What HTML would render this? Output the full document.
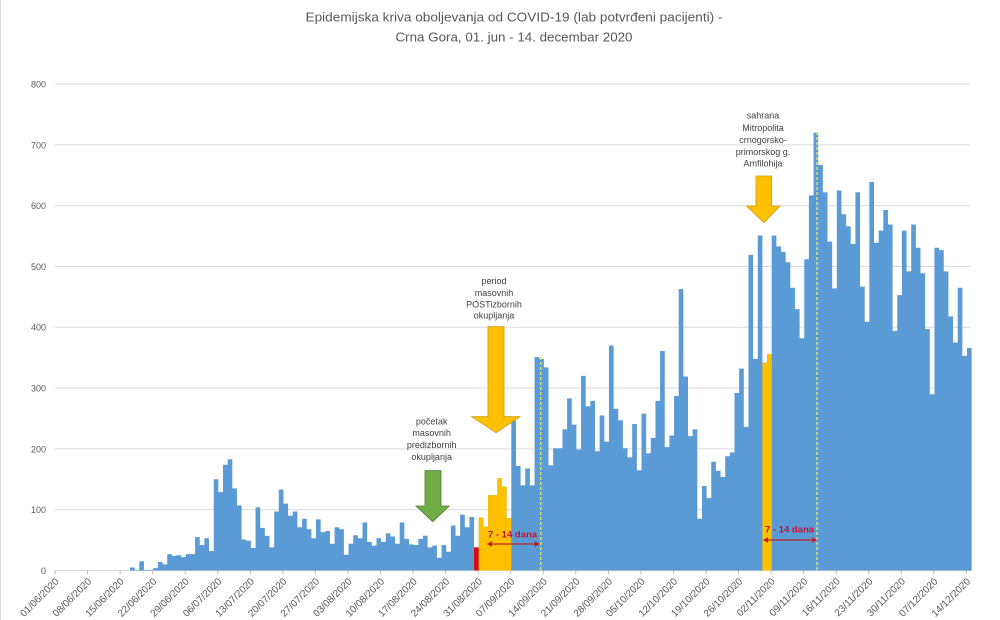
<!DOCTYPE html>
<html>
<head>
<meta charset="utf-8">
<style>
  html,body{margin:0;padding:0;background:#fff;}
  body{width:1000px;height:620px;overflow:hidden;}
  svg{display:block;}
  text{font-family:"Liberation Sans", sans-serif;}
</style>
</head>
<body>
<svg width="1000" height="620" viewBox="0 0 1000 620" xmlns="http://www.w3.org/2000/svg">
  <rect x="0" y="0" width="1000" height="620" fill="#ffffff"/>
  <line x1="0.5" y1="0" x2="0.5" y2="620" stroke="#D9D9D9" stroke-width="1"/>

  <!-- Title -->
  <text x="514" y="21.5" font-size="13" fill="#595959" text-anchor="middle" textLength="417" lengthAdjust="spacingAndGlyphs">Epidemijska kriva oboljevanja od COVID-19 (lab potvrđeni pacijenti) -</text>
  <text x="514" y="41.5" font-size="13" fill="#595959" text-anchor="middle" textLength="237" lengthAdjust="spacingAndGlyphs">Crna Gora, 01. jun - 14. decembar 2020</text>

  <!-- Gridlines -->
  <g stroke="#D9D9D9" stroke-width="1">
    <line x1="55" y1="84.1" x2="970" y2="84.1"/>
    <line x1="55" y1="144.9" x2="970" y2="144.9"/>
    <line x1="55" y1="205.7" x2="970" y2="205.7"/>
    <line x1="55" y1="266.5" x2="970" y2="266.5"/>
    <line x1="55" y1="327.3" x2="970" y2="327.3"/>
    <line x1="55" y1="388.1" x2="970" y2="388.1"/>
    <line x1="55" y1="448.9" x2="970" y2="448.9"/>
    <line x1="55" y1="509.7" x2="970" y2="509.7"/>
    <line x1="55" y1="570.5" x2="972" y2="570.5"/>
  </g>

  <!-- Y labels -->
  <g font-size="9" fill="#595959" text-anchor="end">
    <text x="46" y="87.5">800</text>
    <text x="46" y="148.3">700</text>
    <text x="46" y="209.1">600</text>
    <text x="46" y="269.9">500</text>
    <text x="46" y="330.7">400</text>
    <text x="46" y="391.5">300</text>
    <text x="46" y="452.3">200</text>
    <text x="46" y="513.1">100</text>
    <text x="46" y="573.9">0</text>
  </g>

  <!-- Bars (blue area) -->
  <path fill="#5B9BD5" d="M130,570.5 V567.5 H134.65 V569.9 H139.3 V561.4 H143.95 V569.9 H148.6 V569.9 H153.25 V568.1 H157.9 V562.0 H162.55 V564.4 H167.2 V554.1 H171.85 V555.9 H176.5 V555.3 H181.15 V557.1 H185.8 V554.1 H190.45 V554.1 H195.1 V537.1 H199.75 V545.0 H204.4 V538.3 H209.05 V551.0 H213.7 V479.3 H218.35 V492.1 H223 V464.7 H227.65 V459.2 H232.3 V488.4 H236.95 V505.4 H241.6 V539.5 H246.25 V540.7 H250.9 V548.0 H255.55 V507.3 H260.2 V527.9 H264.85 V535.9 H269.5 V547.4 H274.15 V511.5 H278.8 V489.6 H283.45 V503.6 H288.1 V515.8 H292.75 V511.5 H297.4 V527.3 H302.05 V518.8 H306.7 V529.2 H311.35 V538.3 H316 V519.4 H320.65 V532.2 H325.3 V531.0 H329.95 V543.8 H334.6 V527.3 H339.25 V529.2 H343.9 V554.7 H348.55 V543.8 H353.2 V535.2 H357.85 V538.3 H362.5 V522.5 H367.15 V541.9 H371.8 V545.6 H376.45 V538.3 H381.1 V541.9 H385.75 V533.4 H390.4 V536.5 H395.05 V543.8 H399.7 V522.5 H404.35 V538.9 H409 V544.4 H413.65 V545.0 H418.3 V538.9 H422.95 V535.8 H427.6 V547.4 H432.25 V545.6 H436.9 V557.7 H441.55 V545.0 H446.2 V551.7 H450.85 V525.5 H455.5 V535.8 H460.15 V514.6 H464.8 V527.3 H469.45 V517.0 H474.1 V547.4 H478.75 V517.6 H483.4 V526.7 H488.05 V495.1 H492.7 V495.1 H497.35 V478.1 H502 V486.6 H506.65 V518.2 H511.3 V419.1 H515.95 V465.9 H520.6 V485.4 H525.25 V468.4 H529.9 V485.4 H534.55 V357.1 H539.2 V358.9 H543.85 V367.4 H548.5 V465.3 H553.15 V448.3 H557.8 V448.3 H562.45 V429.4 H567.1 V398.4 H571.75 V424.6 H576.4 V449.5 H581.05 V375.9 H585.7 V406.3 H590.35 V400.9 H595 V451.3 H599.65 V415.5 H604.3 V441.6 H608.95 V345.5 H613.6 V408.8 H618.25 V420.3 H622.9 V448.3 H627.55 V457.4 H632.2 V424.0 H636.85 V470.2 H641.5 V413.6 H646.15 V453.2 H650.8 V438.0 H655.45 V400.9 H660.1 V351.0 H664.75 V447.1 H669.4 V435.5 H674.05 V396.0 H678.7 V289.0 H683.35 V376.5 H688 V436.1 H692.65 V429.4 H697.3 V518.8 H701.95 V486.0 H706.6 V498.1 H711.25 V461.7 H715.9 V470.8 H720.55 V476.9 H725.2 V456.2 H729.85 V452.5 H734.5 V393.0 H739.15 V368.6 H743.8 V427.0 H748.45 V254.9 H753.1 V358.9 H757.75 V235.5 H762.4 V362.6 H767.05 V354.0 H771.7 V235.5 H776.35 V246.4 H781 V251.9 H785.65 V262.2 H790.3 V287.8 H794.95 V309.1 H799.6 V338.2 H804.25 V259.2 H808.9 V195.4 H813.55 V132.7 H818.2 V165.0 H822.85 V192.3 H827.5 V241.6 H832.15 V288.4 H836.8 V190.5 H841.45 V214.2 H846.1 V226.4 H850.75 V244.0 H855.4 V192.3 H860.05 V286.6 H864.7 V321.8 H869.35 V182.0 H874 V242.8 H878.65 V230.6 H883.3 V210.0 H887.95 V224.5 H892.6 V331.0 H897.25 V295.1 H901.9 V230.6 H906.55 V271.4 H911.2 V224.5 H915.85 V247.7 H920.5 V273.2 H925.15 V329.1 H929.8 V394.2 H934.45 V247.7 H939.1 V250.1 H943.75 V271.4 H948.4 V316.4 H953.05 V342.5 H957.7 V287.8 H962.35 V355.9 H967 V348.0 H971.65 V570.5 Z"/>

  <!-- Red bar (election day) -->
  <rect x="474.1" y="547.4" width="4.65" height="23.1" fill="#E8000B"/>
  <!-- Yellow bars -->
  <path fill="#FFC000" d="M478.75,570.5 V517.6 H483.4 V526.7 H488.05 V495.1 H497.35 V478.1 H502 V486.6 H506.65 V518.2 H511.3 V570.5 Z"/>
  <path fill="#FFC000" d="M762.4,570.5 V362.6 H767.05 V354.0 H771.7 V570.5 Z"/>

  <!-- Dashed lines -->
  <line x1="540.7" y1="357" x2="540.7" y2="571" stroke="#D7DF6A" stroke-width="1.5" stroke-dasharray="3,2"/>
  <line x1="817" y1="132" x2="817" y2="571" stroke="#D7DF6A" stroke-width="1.5" stroke-dasharray="3,2"/>

  <!-- 7 - 14 dana arrows -->
  <g stroke="#C0202A" stroke-width="1.2" fill="#C0202A">
    <line x1="490" y1="544" x2="537" y2="544"/>
    <polygon points="486.7,544 492,541.3 492,546.7" stroke="none"/>
    <polygon points="540,544 534.7,541.3 534.7,546.7" stroke="none"/>
    <line x1="766" y1="540" x2="814" y2="540"/>
    <polygon points="762.7,540 768,537.3 768,542.7" stroke="none"/>
    <polygon points="817.3,540 812,537.3 812,542.7" stroke="none"/>
  </g>
  <text x="512.5" y="537.3" font-size="9.5" font-weight="bold" fill="#C0143C" text-anchor="middle">7 - 14 dana</text>
  <text x="789.5" y="532.5" font-size="9.5" font-weight="bold" fill="#C0143C" text-anchor="middle">7 - 14 dana</text>

  <!-- Block arrows -->
  <polygon points="488,326.7 504,326.7 504,416.7 520,416.7 496,432.7 471.7,416.7 488,416.7" fill="#FFC000" stroke="#C99A12" stroke-width="0.8"/>
  <polygon points="425,470.7 441,470.7 441,506 449.3,506 432.7,521.7 416,506 425,506" fill="#70AD47" stroke="#507E32" stroke-width="0.8"/>
  <polygon points="756,176 771.7,176 771.7,206 780,206 764,222.7 746.7,206 756,206" fill="#FFC000" stroke="#C99A12" stroke-width="0.8"/>

  <!-- Annotation texts -->
  <g font-size="9" fill="#404040" text-anchor="middle">
    <text x="494" y="284">period</text>
    <text x="494" y="296">masovnih</text>
    <text x="494" y="307.5">POSTizbornih</text>
    <text x="494" y="318.5">okupljanja</text>

    <text x="431.7" y="424.5">početak</text>
    <text x="431.7" y="436">masovnih</text>
    <text x="431.7" y="448">predizbornih</text>
    <text x="431.7" y="460">okupljanja</text>

    <text x="763" y="118.5">sahrana</text>
    <text x="763" y="131">Mitropolita</text>
    <text x="763" y="143">crnogorsko-</text>
    <text x="763" y="155">primorskog g.</text>
    <text x="763" y="166.5">Amfilohija</text>
  </g>

  <!-- Tick marks -->
  <g stroke="#BFBFBF" stroke-width="1">
    <line x1="55" y1="570.5" x2="55" y2="574.5"/>
    <line x1="87.55" y1="570.5" x2="87.55" y2="574.5"/>
    <line x1="120.1" y1="570.5" x2="120.1" y2="574.5"/>
    <line x1="152.65" y1="570.5" x2="152.65" y2="574.5"/>
    <line x1="185.2" y1="570.5" x2="185.2" y2="574.5"/>
    <line x1="217.75" y1="570.5" x2="217.75" y2="574.5"/>
    <line x1="250.3" y1="570.5" x2="250.3" y2="574.5"/>
    <line x1="282.85" y1="570.5" x2="282.85" y2="574.5"/>
    <line x1="315.4" y1="570.5" x2="315.4" y2="574.5"/>
    <line x1="347.95" y1="570.5" x2="347.95" y2="574.5"/>
    <line x1="380.5" y1="570.5" x2="380.5" y2="574.5"/>
    <line x1="413.05" y1="570.5" x2="413.05" y2="574.5"/>
    <line x1="445.6" y1="570.5" x2="445.6" y2="574.5"/>
    <line x1="478.15" y1="570.5" x2="478.15" y2="574.5"/>
    <line x1="510.7" y1="570.5" x2="510.7" y2="574.5"/>
    <line x1="543.25" y1="570.5" x2="543.25" y2="574.5"/>
    <line x1="575.8" y1="570.5" x2="575.8" y2="574.5"/>
    <line x1="608.35" y1="570.5" x2="608.35" y2="574.5"/>
    <line x1="640.9" y1="570.5" x2="640.9" y2="574.5"/>
    <line x1="673.45" y1="570.5" x2="673.45" y2="574.5"/>
    <line x1="706" y1="570.5" x2="706" y2="574.5"/>
    <line x1="738.55" y1="570.5" x2="738.55" y2="574.5"/>
    <line x1="771.1" y1="570.5" x2="771.1" y2="574.5"/>
    <line x1="803.65" y1="570.5" x2="803.65" y2="574.5"/>
    <line x1="836.2" y1="570.5" x2="836.2" y2="574.5"/>
    <line x1="868.75" y1="570.5" x2="868.75" y2="574.5"/>
    <line x1="901.3" y1="570.5" x2="901.3" y2="574.5"/>
    <line x1="933.85" y1="570.5" x2="933.85" y2="574.5"/>
    <line x1="966.4" y1="570.5" x2="966.4" y2="574.5"/>
  </g>

  <!-- X labels -->
  <g font-size="10" fill="#595959" text-anchor="end">
    <text transform="translate(59.5,582) rotate(-45)">01/06/2020</text>
    <text transform="translate(92.05,582) rotate(-45)">08/06/2020</text>
    <text transform="translate(124.6,582) rotate(-45)">15/06/2020</text>
    <text transform="translate(157.15,582) rotate(-45)">22/06/2020</text>
    <text transform="translate(189.7,582) rotate(-45)">29/06/2020</text>
    <text transform="translate(222.25,582) rotate(-45)">06/07/2020</text>
    <text transform="translate(254.8,582) rotate(-45)">13/07/2020</text>
    <text transform="translate(287.35,582) rotate(-45)">20/07/2020</text>
    <text transform="translate(319.9,582) rotate(-45)">27/07/2020</text>
    <text transform="translate(352.45,582) rotate(-45)">03/08/2020</text>
    <text transform="translate(385,582) rotate(-45)">10/08/2020</text>
    <text transform="translate(417.55,582) rotate(-45)">17/08/2020</text>
    <text transform="translate(450.1,582) rotate(-45)">24/08/2020</text>
    <text transform="translate(482.65,582) rotate(-45)">31/08/2020</text>
    <text transform="translate(515.2,582) rotate(-45)">07/09/2020</text>
    <text transform="translate(547.75,582) rotate(-45)">14/09/2020</text>
    <text transform="translate(580.3,582) rotate(-45)">21/09/2020</text>
    <text transform="translate(612.85,582) rotate(-45)">28/09/2020</text>
    <text transform="translate(645.4,582) rotate(-45)">05/10/2020</text>
    <text transform="translate(677.95,582) rotate(-45)">12/10/2020</text>
    <text transform="translate(710.5,582) rotate(-45)">19/10/2020</text>
    <text transform="translate(743.05,582) rotate(-45)">26/10/2020</text>
    <text transform="translate(775.6,582) rotate(-45)">02/11/2020</text>
    <text transform="translate(808.15,582) rotate(-45)">09/11/2020</text>
    <text transform="translate(840.7,582) rotate(-45)">16/11/2020</text>
    <text transform="translate(873.25,582) rotate(-45)">23/11/2020</text>
    <text transform="translate(905.8,582) rotate(-45)">30/11/2020</text>
    <text transform="translate(938.35,582) rotate(-45)">07/12/2020</text>
    <text transform="translate(970.9,582) rotate(-45)">14/12/2020</text>
  </g>
</svg>
</body>
</html>
